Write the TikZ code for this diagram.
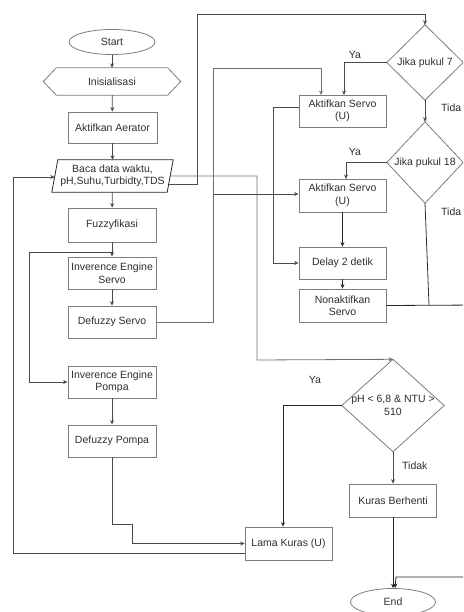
\documentclass[tikz,border=0pt]{standalone}
\usepackage{fontspec}
\setmainfont{Liberation Sans}
\usetikzlibrary{arrows.meta,calc,shapes.geometric}
\definecolor{bord}{HTML}{7C7C7C}
\definecolor{ln}{HTML}{4A4A4A}
\definecolor{txt}{HTML}{2E2E2E}
\begin{document}
\begin{tikzpicture}[x=1pt,y=-1pt,
  every node/.style={font=\fontsize{10.5}{12.5}\selectfont, text=txt, align=center, inner sep=0pt},
  box/.style={draw=bord, line width=0.8pt, minimum width=88pt, minimum height=32pt},
  oval/.style={ellipse, draw=bord, line width=0.8pt, minimum width=86pt, minimum height=25pt},
  outline/.style={draw=bord, line width=0.8pt},
  conn/.style={draw=ln, line width=0.8pt, -{Stealth[length=4.5pt,width=4pt]}},
  link/.style={draw=ln, line width=0.8pt}
]
\useasboundingbox (0,0) rectangle (463,612);
\clip (0,0) rectangle (463,612);

% ---- left column
\node[oval] (start) at (112,42) {Start};
\node[minimum width=137pt, minimum height=27pt] (init) at (112,81.5) {Inisialisasi};
\draw[outline] (init.west) -- ([xshift=13pt]init.north west) -- ([xshift=-13pt]init.north east) -- (init.east) -- ([xshift=-13pt]init.south east) -- ([xshift=13pt]init.south west) -- cycle;
\node[box, minimum width=89pt, minimum height=31pt] (aer) at (112.5,127.5) {Aktifkan Aerator};
\node[minimum width=115pt, minimum height=32pt] (baca) at (112.5,176) {Baca data waktu,\\pH,Suhu,Turbidty,TDS};
\draw[line width=0.8pt, draw=black!85] ([xshift=3pt]baca.north west) -- ([xshift=3pt]baca.north east) -- ([xshift=-3pt]baca.south east) -- ([xshift=-3pt]baca.south west) -- cycle;
\node[box, minimum height=34pt] (fuz) at (112,225) {Fuzzyfikasi};
\node[box] (ies) at (112,273) {Inverence Engine\\Servo};
\node[box] (dfs) at (112,322) {Defuzzy Servo};
\node[box] (iep) at (112,382) {Inverence Engine\\Pompa};
\node[box] (dfp) at (112,441) {Defuzzy Pompa};

% ---- servo column
\node[box, minimum width=87pt] (as1) at (342.5,111) {Aktifkan Servo\\(U)};
\node[box, minimum width=87pt, minimum height=33pt] (as2) at (342.5,195.5) {Aktifkan Servo\\(U)};
\node[box, minimum width=87pt] (del) at (342.5,263) {Delay 2 detik};
\node[box, minimum width=87pt, minimum height=33pt] (non) at (342.5,305.5) {Nonaktifkan\\Servo};

% ---- decisions
\node[minimum width=76pt, minimum height=75pt] (j7) at (425,62.5) {Jika pukul 7};
\draw[outline] (j7.north) -- (j7.east) -- (j7.south) -- (j7.west) -- cycle;
\node[minimum width=76pt, minimum height=81pt] (j18) at (425,162.5) {Jika pukul 18};
\draw[outline] (j18.north) -- (j18.east) -- (j18.south) -- (j18.west) -- cycle;
\node[minimum width=102pt, minimum height=92pt] (ph) at (393,405.5) {pH < 6,8 \& NTU >\\510};
\draw[outline] (ph.north) -- (ph.east) -- (ph.south) -- (ph.west) -- cycle;

% ---- bottom
\node[box, minimum width=87pt, minimum height=33pt] (kb) at (393,500.5) {Kuras Berhenti};
\node[box, minimum width=87pt, minimum height=33pt] (lk) at (288.5,543.5) {Lama Kuras (U)};
\node[oval, minimum width=85pt, minimum height=27pt] (end) at (393,602) {End};

% ---- labels
\node (ya1) at (355,55) {Ya};
\node (ya2) at (355,152) {Ya};
\node (ya3) at (315,380) {Ya};
\node[anchor=west] (t1) at (441,108) {Tida};
\node[anchor=west] (t2) at (441,212) {Tida};
\node[anchor=west] (t3) at (402,466) {Tidak};

% ---- coordinates
\coordinate (bacaR1) at (168.5,184);
\coordinate (bacaR2) at (171,176);
\coordinate (bacaL) at (54.8,177);
\coordinate (fb) at (112,252);
\coordinate (farR) at (480,305);

% ---- main flow
\draw[conn] (start) -- (init);
\draw[conn] (init) -- (aer);
\draw[conn] (aer) -- (baca);
\draw[conn] (baca) -- (fuz);
\draw[conn] (fuz) -- (ies);
\draw[conn] (ies) -- (dfs);
\draw[conn] (iep) -- (dfp);
\draw[conn] (fb) -- (29,252) |- (iep.west);

% baca -> jika pukul 7
\draw[conn] (bacaR1) -- (197,184) -- (197,14) -| (j7.north);
% baca -> pH decision
\draw[conn, draw=ln!80] (bacaR2) -- (257,176) -- (257,360) -- (ph.north);
% defuzzy servo -> servo boxes
\draw[conn, draw=ln!80] (dfs.east) -- (213,322) -- (213,68) -| (321,95);
\draw[conn] (213,194) -- (as2.west |- 0,194);
% aktifkan servo 1 -> delay
\draw[conn] ([yshift=4pt]as1.west) -- (273,107) |- (del.west);
% decisions
\draw[conn] (j7.west) -| (344,95);
\draw[conn] (j7.south) -- (j18.north);
\draw[conn] (j18.west) -| (346,179);
\draw[link, draw=black!80] (j18.south) -- (429,305);
\draw[conn, draw=black!85] (as2) -- (del);
\draw[conn, draw=black!85] (del) -- (non);
\draw[conn, draw=black!85] (non.east) -- (farR) |- (396,577) -- ([xshift=2pt]end.north);
\draw[conn, draw=black!85] (ph.west) -| (lk.north -| 283,0);
\draw[conn] (ph.south) -- (kb.north);
\draw[conn, draw=black!85] (kb.south) -- (end.north);
% defuzzy pompa -> lama kuras
\draw[conn] (dfp.south) -- (112,524) -- (132,524) |- (lk.west);
% loop back
\draw[conn] ([yshift=-10pt]lk.west) -- (13,553.5) -- (13,177) -- (bacaL);
\end{tikzpicture}
\end{document}
